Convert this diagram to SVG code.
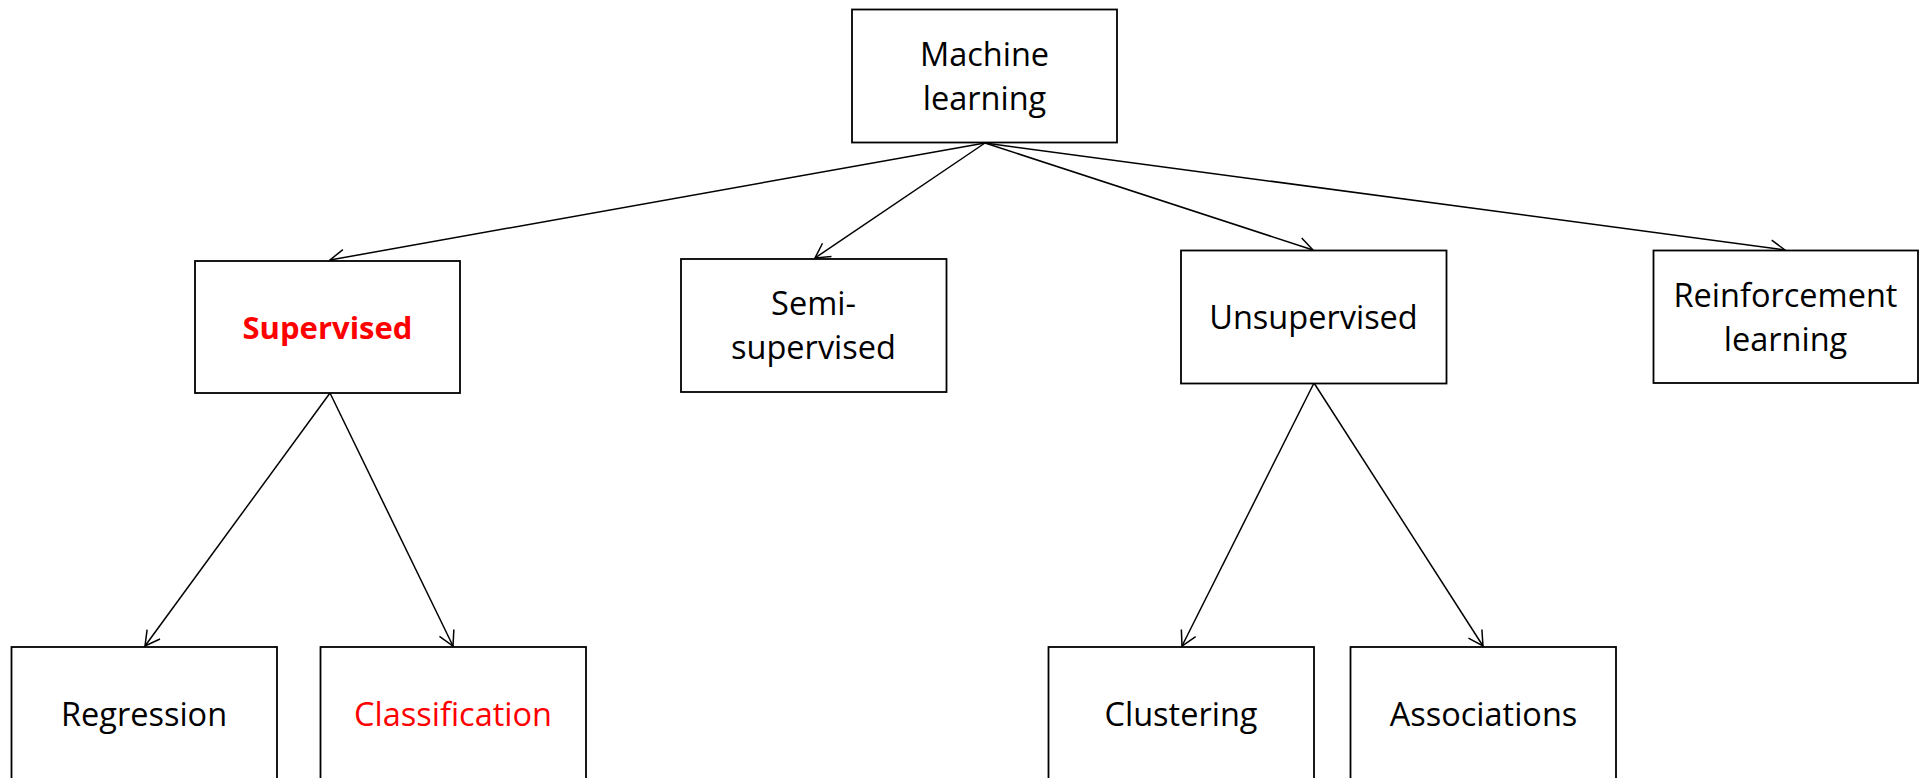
<svg xmlns="http://www.w3.org/2000/svg" width="1919" height="778" viewBox="0 0 1919 778">
<style>
.box{fill:#fff;stroke:#000;stroke-width:1.8}
.t{font-family:"Open Sans","Liberation Sans",sans-serif;font-size:32.5px;fill:#000;text-anchor:middle}
.red{fill:#ff0000}
.b{font-weight:bold;font-size:31px}
.c{stroke:#000;stroke-width:1.5;fill:none;marker-end:url(#arr)}
</style>
<defs>
<marker id="arr" markerUnits="userSpaceOnUse" markerWidth="18" markerHeight="18" refX="16" refY="9" orient="auto">
<path d="M1.5,1 L16,9 L1.5,17" fill="none" stroke="#000" stroke-width="1.5"/>
</marker>
</defs>
<rect width="1919" height="778" fill="#fff"/>
<g id="connectors">
<line class="c" x1="985" y1="143" x2="330" y2="260"/>
<line class="c" x1="985" y1="143" x2="815" y2="258"/>
<line class="c" x1="985" y1="143" x2="1313" y2="250"/>
<line class="c" x1="985" y1="143" x2="1785" y2="250"/>
<line class="c" x1="330" y1="393" x2="145" y2="646"/>
<line class="c" x1="330" y1="393" x2="453" y2="646"/>
<line class="c" x1="1314" y1="383" x2="1182" y2="646"/>
<line class="c" x1="1314" y1="383" x2="1483" y2="646"/>
</g>
<g id="machine-learning">
<rect class="box" x="852" y="9.5" width="265" height="133"/>
<text class="t" x="984.5" y="66">Machine</text>
<text class="t" x="984.5" y="110">learning</text>
</g>
<g id="supervised">
<rect class="box" x="195" y="261" width="265" height="132"/>
<text class="t red b" x="327.5" y="339">Supervised</text>
</g>
<g id="semi-supervised">
<rect class="box" x="681" y="259" width="265.5" height="133"/>
<text class="t" x="813.5" y="314.5">Semi-</text>
<text class="t" x="813.5" y="358.5">supervised</text>
</g>
<g id="unsupervised">
<rect class="box" x="1181" y="250.5" width="265.5" height="133"/>
<text class="t" x="1313.5" y="329">Unsupervised</text>
</g>
<g id="reinforcement-learning">
<rect class="box" x="1653.5" y="250.5" width="264.5" height="132.5"/>
<text class="t" x="1785.5" y="307">Reinforcement</text>
<text class="t" x="1785.5" y="351">learning</text>
</g>
<g id="regression">
<rect class="box" x="11.5" y="647" width="265.5" height="140"/>
<text class="t" x="144" y="726">Regression</text>
</g>
<g id="classification">
<rect class="box" x="320.5" y="647" width="265.5" height="140"/>
<text class="t red" x="453" y="726">Classification</text>
</g>
<g id="clustering">
<rect class="box" x="1048.5" y="647" width="265.5" height="140"/>
<text class="t" x="1181" y="726">Clustering</text>
</g>
<g id="associations">
<rect class="box" x="1350.5" y="647" width="265.5" height="140"/>
<text class="t" x="1483.5" y="726">Associations</text>
</g>
</svg>
